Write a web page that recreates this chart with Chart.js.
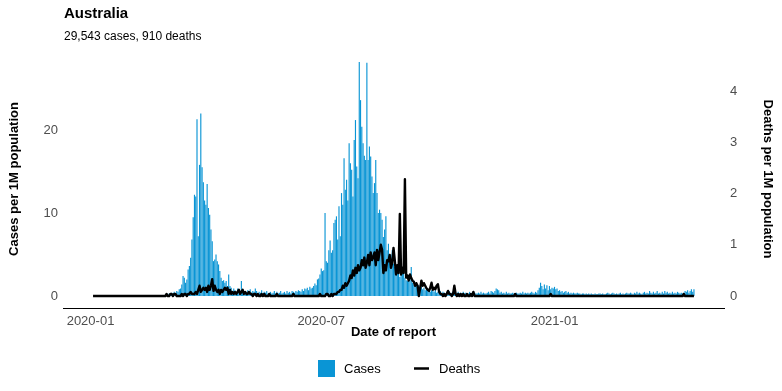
<!DOCTYPE html>
<html>
<head>
<meta charset="utf-8">
<script src="https://cdn.jsdelivr.net/npm/chart.js@4.4.0/dist/chart.umd.min.js"></script>
<style>
  html, body { margin: 0; padding: 0; background: #fff; }
</style>
</head>
<body>
<canvas id="chart" width="782" height="391"></canvas>
<script>
// Australia, daily reports per 1M population
const country = 'Australia';
const summary = '29,543 cases, 910 deaths';
const firstDay = '2020-01-03';
const tickDates = ['2020-01-01', '2020-07-01', '2021-01-01'];
const caseTicks = [0, 10, 20];
const deathTicks = [0, 1, 2, 3, 4];

// one row per month, starting at firstDay
const cases = [
  0,0,0,0,0,0,0,0,0,0, 0,0,0,0,0,0,0,0,0,0, 0,0,0,0.04,0.04,0,0.04,0.04,0,
  0.12,0.04,0,0.04,0,0,0,0,0,0, 0,0,0,0,0,0,0,0,0,0, 0,0.12,0,0,0,0.04,0,0.04,0.16,
  0.16,0.12,0.3,0.2,0.4,0.3,0.5,0.3,0.6,0.5, 0.8,0.9,1.4,2.4,2.2,1.6,2.0,3.2,3.6,4.6, 6.8,9.5,12.2,12.0,21.3,7.2,15.8,22.0,15.5,13.7, 11.5,
  11.0,13.5,10.6,9.8,8.0,6.6,4.2,4.4,5.0,4.2, 3.8,3.0,2.2,1.8,1.9,1.6,1.8,1.2,2.6,1.2, 1.0,0.6,0.9,0.7,0.5,0.9,0.4,0.6,1.8,0.8,
  0.6,0.5,0.4,0.7,0.5,0.8,0.4,0.6,0.5,0.9, 0.6,0.3,0.5,0.4,0.7,0.3,0.5,0.4,0.6,0.3, 0.4,0.5,0.3,0.4,0.6,0.3,0.5,0.3,0.4,0.6, 0.3,
  0.4,0.5,0.3,0.6,0.4,0.5,0.3,0.6,0.5,0.4, 0.6,0.5,0.7,0.6,0.5,0.8,0.6,0.9,0.8,1.0, 0.7,1.1,0.9,1.0,1.2,1.5,1.3,2.0,2.1,2.6,
  3.3,3.0,3.1,10.0,4.2,4.0,5.5,6.7,5.2,5.5, 8.8,9.2,9.6,6.8,10.8,7.2,12.4,11.0,16.6,12.8, 14.0,11.5,18.4,16.0,15.2,12.0,18.8,21.2,15.6,14.2, 28.2,
  23.6,20.4,18.4,16.9,16.4,28.1,16.4,18.0,16.8,14.4, 12.4,13.6,16.4,12.4,10.0,10.4,10.0,9.2,7.1,8.0, 9.6,5.5,6.3,4.7,5.0,5.5,3.9,3.5,3.3,3.1, 3.9,
  2.3,3.0,3.5,3.1,2.2,1.9,1.8,2.5,2.0,3.5, 1.6,1.4,1.2,1.5,1.0,1.3,0.9,1.1,0.8,1.0, 0.7,0.9,0.6,0.8,0.5,0.7,0.6,0.5,0.7,0.4,
  0.5,0.4,0.6,0.3,0.5,0.4,0.3,0.5,0.4,0.6, 0.3,0.4,0.5,0.3,0.4,0.3,0.5,0.3,0.4,0.3, 0.5,0.3,0.4,0.3,0.3,0.5,0.3,0.4,0.3,0.4, 0.3,
  0.3,0.4,0.3,0.5,0.3,0.4,0.3,0.3,0.4,0.5, 0.3,0.6,0.5,0.4,0.6,0.9,0.8,0.7,0.4,0.5, 0.3,0.4,0.3,0.5,0.3,0.4,0.3,0.3,0.4,0.3,
  0.3,0.4,0.3,0.3,0.4,0.3,0.5,0.3,0.4,0.3, 0.4,0.3,0.4,0.5,0.4,0.3,0.5,0.4,0.7,1.0, 1.6,1.2,0.8,1.4,0.9,1.3,0.7,1.2,0.8,1.0, 0.9,
  1.1,0.8,0.9,0.6,0.7,0.5,0.6,0.4,0.5,0.6, 0.4,0.5,0.3,0.4,0.3,0.4,0.3,0.3,0.4,0.3, 0.3,0.2,0.3,0.3,0.2,0.3,0.2,0.3,0.2,0.3, 0.2,
  0.2,0.3,0.2,0.2,0.3,0.3,0.2,0.3,0.2,0.2, 0.3,0.4,0.3,0.2,0.3,0.4,0.3,0.2,0.3,0.2, 0.3,0.4,0.2,0.3,0.2,0.3,0.4,0.3,
  0.3,0.4,0.3,0.2,0.4,0.3,0.5,0.3,0.4,0.3, 0.2,0.4,0.5,0.3,0.4,0.3,0.6,0.4,0.3,0.5, 0.3,0.4,0.6,0.3,0.4,0.3,0.5,0.3,0.6,0.4, 0.5,
  0.3,0.4,0.3,0.5,0.3,0.4,0.3,0.5,0.4,0.3, 0.4,0.3,0.4,0.6,0.5,0.7,0.4,0.6,0.8,0.5, 0.8
];

const deaths = [
  0,0,0,0,0,0,0,0,0,0, 0,0,0,0,0,0,0,0,0,0, 0,0,0,0,0,0,0,0,0,
  0,0,0,0,0,0,0,0,0,0, 0,0,0,0,0,0,0,0,0,0, 0,0,0,0,0,0,0,0,0,
  0.04,0,0,0.04,0.04,0,0.04,0.04,0,0, 0,0,0.04,0,0.04,0.04,0,0.04,0.04,0.08, 0.04,0.04,0.04,0.08,0.04,0.12,0.2,0.08,0.12,0.16, 0.12,
  0.16,0.08,0.2,0.12,0.2,0.33,0.1,0.2,0.12,0.08, 0.12,0.04,0.12,0.08,0.12,0.16,0.12,0.16,0.04,0.12, 0.04,0.08,0.04,0.08,0.04,0.08,0.12,0.04,0.08,0.12,
  0.04,0.08,0.04,0.04,0.08,0.04,0.04,0,0.04,0.04, 0,0.04,0,0,0.04,0,0.04,0,0,0, 0.04,0,0,0,0,0,0.04,0,0,0, 0,
  0,0,0,0,0,0,0,0,0.04,0, 0,0,0,0,0,0,0,0,0,0, 0,0,0,0,0,0,0,0,0,0.04,
  0,0,0,0,0.04,0.04,0,0,0.04,0, 0.04,0.04,0.04,0.08,0.08,0.12,0.12,0.2,0.16,0.25, 0.2,0.25,0.3,0.4,0.35,0.5,0.4,0.55,0.45,0.6, 0.5,
  0.55,0.7,0.6,0.75,0.55,0.65,0.8,0.6,0.85,0.7, 0.75,0.85,0.6,0.9,0.7,0.85,1.0,0.9,0.45,0.6, 0.5,0.7,0.68,0.8,0.55,0.65,0.94,0.7,0.42,0.6, 0.45,
  1.6,0.42,0.55,0.45,2.28,0.36,0.4,0.3,0.42,0.35, 0.3,0.28,0.2,0.25,0.2,0,0.15,0.3,0.2,0.25, 0.2,0.15,0.12,0.1,0.16,0.26,0.12,0.16,0.13,0.2,
  0.23,0.08,0.04,0.04,0,0.04,0,0.04,0.1,0.04, 0.04,0,0.04,0.2,0.04,0,0.04,0,0.04,0, 0.04,0,0,0.04,0,0,0.04,0,0.08,0, 0,
  0,0,0,0,0,0,0,0,0,0, 0,0,0,0,0,0,0,0,0,0, 0,0,0,0,0,0,0,0,0,0,
  0.04,0,0,0,0,0,0,0,0,0, 0,0,0,0,0,0,0,0,0,0, 0,0,0,0,0,0,0,0,0.04,0, 0,
  0,0,0,0,0,0,0,0,0,0, 0,0,0,0,0,0,0,0,0,0, 0,0,0,0,0,0,0,0,0,0, 0,
  0,0,0,0,0,0,0,0,0,0, 0,0,0,0,0,0,0,0,0,0, 0,0,0,0,0,0,0,0,
  0,0,0,0,0,0,0,0,0,0, 0,0,0,0,0,0,0,0,0,0, 0,0,0,0,0,0,0,0,0,0, 0,
  0,0,0,0,0,0,0,0,0,0, 0,0,0.04,0,0,0,0,0,0,0, 0
];

const blue = '#0a95d5';
const font = '"Liberation Sans", Arial, Helvetica, sans-serif';
Chart.defaults.font.family = font;

// x runs in days since 2020-01-01
const DAY = 86400000;
const origin = Date.UTC(2020, 0, 1);
const dayOf = s => Math.round((Date.parse(s) - origin) / DAY);
const start = dayOf(firstDay);
const caseData = cases.map((v, i) => ({ x: start + i, y: v }));
const deathData = deaths.map((v, i) => ({ x: start + i, y: v }));
const xTicks = tickDates.map(dayOf);
const monthLabel = d => new Date(origin + d * DAY).toISOString().slice(0, 7);

// title, subtitle and legend
const extras = {
  id: 'extras',
  afterDraw(chart) {
    const ctx = chart.ctx;
    ctx.save();
    ctx.fillStyle = '#000';
    ctx.textBaseline = 'alphabetic';
    ctx.font = 'bold 15px ' + font;
    ctx.fillText(country, 64, 18);
    ctx.font = '12px ' + font;
    ctx.fillText(summary, 64, 40);

    ctx.fillStyle = blue;
    ctx.fillRect(318, 360, 17, 17);
    ctx.strokeStyle = '#000';
    ctx.lineWidth = 2.5;
    ctx.beginPath();
    ctx.moveTo(414, 368.5);
    ctx.lineTo(429, 368.5);
    ctx.stroke();
    ctx.fillStyle = '#000';
    ctx.font = '13px ' + font;
    ctx.textBaseline = 'middle';
    ctx.fillText('Cases', 344, 369);
    ctx.fillText('Deaths', 439, 369);
    ctx.restore();
  }
};

new Chart(document.getElementById('chart'), {
  type: 'bar',
  data: {
    datasets: [
      {
        type: 'line',
        label: 'Deaths',
        data: deathData,
        yAxisID: 'y2',
        borderColor: '#000',
        borderWidth: 2.4,
        borderJoinStyle: 'round',
        pointRadius: 0,
        tension: 0,
        order: 1
      },
      {
        type: 'bar',
        label: 'Cases',
        data: caseData,
        yAxisID: 'y',
        backgroundColor: blue,
        borderWidth: 0,
        barPercentage: 1,
        categoryPercentage: 0.9,
        order: 2
      }
    ]
  },
  options: {
    responsive: false,
    animation: false,
    layout: { padding: { top: 50, bottom: 51, left: 0, right: 0 } },
    plugins: { legend: { display: false }, tooltip: { enabled: false } },
    scales: {
      x: {
        type: 'linear',
        min: -21.7,
        max: 499.7,
        offset: false,
        grid: { display: false, drawTicks: false },
        border: { display: true, color: '#000', width: 1 },
        ticks: {
          padding: 6, color: '#4d4d4d', font: { size: 13 },
          autoSkip: false, maxRotation: 0,
          callback: v => monthLabel(v)
        },
        afterBuildTicks: s => { s.ticks = xTicks.map(v => ({ value: v })); },
        afterFit: s => { s.height = 32; },
        title: { display: true, text: 'Date of report', color: '#000', font: { size: 13, weight: 'bold' }, padding: 0 }
      },
      y: {
        position: 'left',
        min: -1.446,
        max: 29.64,
        grid: { display: false, drawTicks: false },
        border: { display: false },
        ticks: { padding: 5, color: '#4d4d4d', font: { size: 13 } },
        afterBuildTicks: s => { s.ticks = caseTicks.map(v => ({ value: v })); },
        afterFit: s => { s.width = 63; },
        title: { display: true, text: 'Cases per 1M population', color: '#000', font: { size: 13, weight: 'bold' }, padding: { top: 7, bottom: 0 } }
      },
      y2: {
        position: 'right',
        min: -0.234,
        max: 4.8,
        grid: { display: false, drawTicks: false },
        border: { display: false },
        ticks: { padding: 6, color: '#4d4d4d', font: { size: 13 } },
        afterBuildTicks: s => { s.ticks = deathTicks.map(v => ({ value: v })); },
        afterFit: s => { s.width = 58; },
        title: { display: true, text: 'Deaths per 1M population', color: '#000', font: { size: 13, weight: 'bold' }, padding: { top: 7, bottom: 0 } }
      }
    }
  },
  plugins: [extras]
});
</script>
</body>
</html>
